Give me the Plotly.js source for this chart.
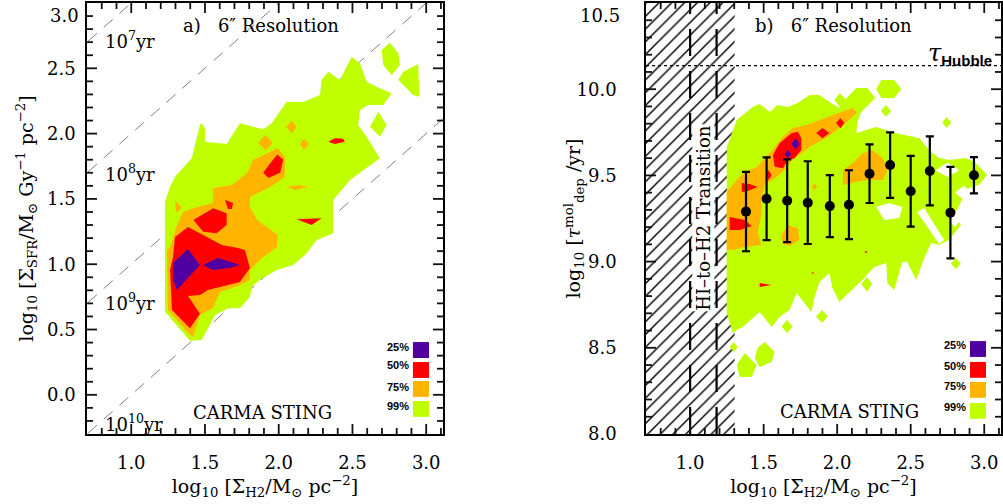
<!DOCTYPE html>
<html><head><meta charset="utf-8">
<script src="https://cdn.plot.ly/plotly-3.0.1.min.js"></script>
<style>html,body{margin:0;padding:0;background:#fff}</style>
</head><body><div id="chart" style="width:1003px;height:504px"></div>
<script>
const C25 = '#5000a0', C50 = '#ff0000', C75 = '#ffb400', C99 = '#bfff00';
const LEVEL_LABELS = ['25%', '50%', '75%', '99%'];
const LEVEL_COLORS = [C25, C50, C75, C99];
const TDEP_LOG = [7, 8, 9, 10];
const TDEP_LABELS = ['10<sup>7</sup>yr', '10<sup>8</sup>yr', '10<sup>9</sup>yr', '10<sup>10</sup>yr'];
const TDEP_LABEL_Y = [2.717, 1.698, 0.711, -0.216];
const A_99 = [
 [[1.398,0.414],[1.229,0.636],[1.229,1.109],[1.229,1.479],[1.263,1.593],[1.297,1.670],[1.410,1.811],[1.466,2.066],[1.478,2.079],[1.500,2.041],[1.500,1.938],[1.647,1.920],[1.737,2.079],[1.895,2.033],[1.952,2.079],[2.054,2.244],[2.166,2.242],[2.280,2.296],[2.291,2.410],[2.336,2.474],[2.415,2.410],[2.461,2.512],[2.495,2.589],[2.551,2.538],[2.596,2.397],[2.686,2.347],[2.766,2.309],[2.709,2.219],[2.607,2.219],[2.551,2.181],[2.539,2.066],[2.596,1.976],[2.686,1.811],[2.607,1.747],[2.483,1.645],[2.370,1.492],[2.370,1.237],[2.257,1.185],[2.190,1.083],[2.099,0.994],[1.986,0.956],[1.873,0.879],[1.817,0.828],[1.805,0.751],[1.737,0.662],[1.658,0.662],[1.568,0.611],[1.478,0.420]],
 [[2.698,2.640],[2.754,2.696],[2.811,2.615],[2.822,2.525],[2.766,2.449],[2.709,2.525]],
 [[2.844,2.474],[2.946,2.533],[2.953,2.283],[2.912,2.296],[2.811,2.410]],
 [[2.675,2.168],[2.732,2.066],[2.686,1.976],[2.619,2.053]]
];
const A_75 = [
 [[1.249,0.649],[1.242,1.109],[1.263,1.132],[1.303,1.277],[1.351,1.400],[1.446,1.438],[1.554,1.469],[1.554,1.583],[1.683,1.606],[1.785,1.698],[1.825,1.798],[1.920,1.851],[1.995,1.890],[2.042,1.821],[2.042,1.668],[1.941,1.591],[1.805,1.515],[1.805,1.438],[1.853,1.338],[1.995,1.224],[1.988,1.132],[1.886,1.047],[1.805,0.956],[1.805,0.879],[1.724,0.833],[1.602,0.787],[1.554,0.665],[1.466,0.611],[1.419,0.443],[1.385,0.473]],
 [[2.09,2.10],[2.12,2.05],[2.09,2.00],[2.05,2.05]],
 [[1.91,1.99],[1.96,1.93],[1.91,1.87],[1.86,1.93]],
 [[2.17,1.96],[2.205,1.92],[2.17,1.875],[2.145,1.92]],
 [[2.054,1.593],[2.144,1.606],[2.200,1.589],[2.110,1.568]],
 [[1.297,1.492],[1.344,1.430],[1.303,1.392]]
];
const A_50 = [
 [[1.99,1.84],[2.03,1.80],[2.01,1.70],[1.93,1.66],[1.895,1.70],[1.94,1.77]],
 [[2.336,1.938],[2.381,1.964],[2.436,1.961],[2.449,1.938],[2.381,1.920]],
 [[2.122,1.344],[2.291,1.351],[2.223,1.300]],
 [[1.636,1.492],[1.690,1.469],[1.683,1.423],[1.656,1.423]],
 [[1.421,1.338],[1.556,1.428],[1.647,1.390],[1.647,1.300],[1.579,1.237],[1.488,1.249]],
 [[1.283,1.055],[1.297,1.208],[1.385,1.285],[1.486,1.224],[1.615,1.147],[1.724,1.124],[1.771,1.109],[1.805,0.971],[1.737,0.864],[1.602,0.825],[1.520,0.802],[1.466,0.764],[1.385,0.756],[1.466,0.620],[1.398,0.510],[1.276,0.649],[1.263,0.956]]
];
const A_25 = [
 [[1.283,1.009],[1.385,1.116],[1.466,0.994],[1.310,0.802],[1.283,0.879]],
 [[1.486,0.994],[1.588,1.047],[1.737,0.994],[1.669,0.971],[1.554,0.956]]
];
const B_99 = [
 [[1.249,9.665],[1.317,9.821],[1.425,9.897],[1.473,9.914],[1.541,9.868],[1.595,9.908],[1.663,9.897],[1.731,9.920],[1.812,9.966],[1.880,9.966],[1.947,9.926],[2.015,9.891],[2.069,9.955],[2.131,10.007],[2.205,10.007],[2.259,9.949],[2.164,9.868],[2.137,9.810],[2.131,9.746],[2.266,9.781],[2.422,9.740],[2.558,9.717],[2.625,9.647],[2.693,9.601],[2.761,9.589],[2.876,9.601],[2.944,9.572],[3.019,9.502],[2.964,9.444],[2.863,9.415],[2.849,9.357],[2.795,9.270],[2.842,9.212],[2.761,9.125],[2.693,9.096],[2.639,9.108],[2.592,9.021],[2.537,8.893],[2.476,8.998],[2.442,8.998],[2.388,8.835],[2.341,8.876],[2.334,8.992],[2.253,8.969],[2.171,8.893],[2.015,8.766],[1.968,8.847],[1.947,8.934],[1.880,8.882],[1.846,8.795],[1.825,8.708],[1.724,8.818],[1.676,8.719],[1.608,8.679],[1.554,8.621],[1.473,8.708],[1.358,8.621],[1.317,8.603],[1.290,8.586],[1.249,8.702]],
 [[2.300,10.053],[2.388,10.053],[2.436,10.001],[2.388,9.949],[2.300,9.949],[2.266,10.001]],
 [[2.332,9.908],[2.366,9.874],[2.332,9.840],[2.298,9.874]],
 [[2.020,9.978],[2.061,9.937],[2.020,9.897],[1.981,9.937]],
 [[2.744,9.839],[2.775,9.807],[2.744,9.775],[2.714,9.807]],
 [[2.807,9.021],[2.840,8.989],[2.807,8.957],[2.773,8.989]],
 [[2.202,8.911],[2.239,8.870],[2.202,8.825],[2.164,8.870]],
 [[1.897,8.719],[1.936,8.682],[1.897,8.644],[1.857,8.682]],
 [[1.659,8.661],[1.697,8.624],[1.659,8.586],[1.622,8.624]],
 [[1.507,8.534],[1.575,8.476],[1.554,8.418],[1.473,8.389],[1.439,8.441],[1.459,8.499]],
 [[1.371,8.470],[1.453,8.400],[1.419,8.331],[1.337,8.331],[1.317,8.400]],
 [[1.297,8.534],[1.324,8.505],[1.297,8.476],[1.269,8.505]]
];
const B_HOLES = [
 [[2.266,9.317],[2.354,9.340],[2.442,9.317],[2.422,9.253],[2.320,9.241]],
 [[2.544,9.288],[2.592,9.311],[2.727,9.125],[2.693,9.102]],
 [[2.67,9.53],[2.75,9.575],[2.83,9.53],[2.75,9.49]],
 [[2.80,9.40],[2.86,9.44],[2.92,9.40],[2.86,9.36]],
 [[2.76,9.24],[2.80,9.28],[2.84,9.24],[2.80,9.20]]
];
const B_75 = [
 [[1.249,9.404],[1.317,9.473],[1.371,9.520],[1.453,9.549],[1.561,9.647],[1.629,9.723],[1.697,9.775],[1.792,9.792],[1.880,9.821],[2.015,9.862],[2.103,9.891],[2.137,9.868],[2.083,9.821],[2.015,9.775],[1.927,9.717],[1.832,9.676],[1.764,9.630],[1.697,9.589],[1.642,9.531],[1.588,9.491],[1.507,9.444],[1.486,9.357],[1.486,9.270],[1.459,9.172],[1.486,9.096],[1.371,9.085],[1.290,9.067],[1.249,9.067]],
 [[2.038,9.531],[2.105,9.570],[2.173,9.628],[2.241,9.647],[2.309,9.599],[2.343,9.531],[2.309,9.473],[2.219,9.473],[2.128,9.463],[2.038,9.444]],
 [[1.622,9.154],[1.663,9.212],[1.731,9.195],[1.744,9.125],[1.676,9.090],[1.629,9.102]],
 [[1.846,9.456],[1.866,9.433],[1.846,9.415],[1.825,9.433]]
];
const B_50 = [
 [[1.563,9.618],[1.608,9.686],[1.688,9.744],[1.733,9.753],[1.756,9.715],[1.756,9.647],[1.710,9.599],[1.665,9.589],[1.631,9.541],[1.575,9.550]],
 [[1.900,9.775],[1.947,9.746],[1.900,9.715],[1.857,9.746]],
 [[2.022,9.833],[2.049,9.804],[2.022,9.773],[1.993,9.804]],
 [[1.351,9.456],[1.405,9.450],[1.459,9.433],[1.392,9.410],[1.351,9.404]],
 [[1.269,9.259],[1.371,9.241],[1.419,9.207],[1.337,9.183],[1.269,9.183]],
 [[1.534,9.531],[1.554,9.502],[1.534,9.473],[1.520,9.502]],
 [[1.473,8.876],[1.554,8.864],[1.473,8.853]],
 [[2.196,9.062],[2.206,9.056],[2.196,9.050],[2.186,9.056]],
 [[1.834,8.938],[1.844,8.934],[1.834,8.930],[1.824,8.934]]
];
const B_25 = [
 [[1.717,9.717],[1.744,9.682],[1.717,9.647],[1.690,9.682]],
 [[1.663,9.647],[1.688,9.624],[1.663,9.599],[1.642,9.624]]
];
const BIN_X   = [1.38, 1.52, 1.66, 1.80, 1.95, 2.08, 2.22, 2.36, 2.50, 2.63, 2.77, 2.93];
const BIN_Y   = [9.29, 9.365, 9.353, 9.342, 9.322, 9.33, 9.51, 9.56, 9.408, 9.526, 9.284, 9.501];
const BIN_ERR = [0.23, 0.24, 0.24, 0.24, 0.18, 0.20, 0.17, 0.19, 0.205, 0.20, 0.265, 0.105];
const TRANSITION_EDGE = 1.303;
const TRANSITION_LINES = [1.0, 1.18];
const LOG_TAU_HUBBLE = 10.137;
const X_RANGE = [0.7, 3.114];
const YA_RANGE = [-0.3, 3.0];
const YB_RANGE = [8.0, 10.5];
const X_TICKS = [1.0, 1.5, 2.0, 2.5, 3.0];
const YA_TICKS = [0.0, 0.5, 1.0, 1.5, 2.0, 2.5];
const YB_TICKS = [8.0, 8.5, 9.0, 9.5, 10.0];

const SERIF = 'DejaVu Serif';
const W = 1003, H = 504, M = {l:87, r:2, t:3, b:70};
const XA_DOM = [0, 0.3895], XB_DOM = [0.6116, 1];
function polyXY(polys){
  const x=[], y=[];
  polys.forEach((p,i)=>{ if(i){x.push(null);y.push(null);} p.forEach(q=>{x.push(q[0]);y.push(q[1]);}); });
  return {x,y};
}
function fillTrace(polys,color,xa,ya){
  const d=polyXY(polys);
  return {type:'scatter',mode:'lines',x:d.x,y:d.y,fill:'toself',fillcolor:color,
    line:{width:0,color:color},xaxis:xa,yaxis:ya,hoverinfo:'skip',showlegend:false};
}
// IDL-style inward ticks on all four sides (major 0.5, minor 0.1), as line segments in axis units
function tickTrace(xa, ya, xRange, yRange, xDom){
  const pw=(W-M.l-M.r)*(xDom[1]-xDom[0]), ph=H-M.t-M.b;
  const dxpp=(xRange[1]-xRange[0])/pw, dypp=(yRange[1]-yRange[0])/ph;
  const x=[], y=[];
  for(let k=Math.ceil(xRange[0]*10+1e-6);k<=Math.floor(xRange[1]*10-1e-6);k++){
    const v=k/10, L=(k%5===0)?10:6;
    x.push(v,v,null,v,v,null); y.push(yRange[0],yRange[0]+L*dypp,null,yRange[1],yRange[1]-L*dypp,null);
  }
  for(let k=Math.ceil(yRange[0]*10+1e-6);k<=Math.floor(yRange[1]*10-1e-6);k++){
    const v=k/10, L=(k%5===0)?10:6;
    y.push(v,v,null,v,v,null); x.push(xRange[0],xRange[0]+L*dxpp,null,xRange[1],xRange[1]-L*dxpp,null);
  }
  return {type:'scatter',mode:'lines',x,y,line:{color:'#111',width:1.8},connectgaps:false,
    xaxis:xa,yaxis:ya,hoverinfo:'skip',showlegend:false};
}
const traces=[];
TDEP_LOG.forEach(t=>{
  traces.push({type:'scatter',mode:'lines',x:[X_RANGE[0]-0.1,X_RANGE[1]+0.1],
    y:[X_RANGE[0]-0.1+9-t,X_RANGE[1]+0.1+9-t],
    line:{color:'#808080',width:1,dash:'12px,9px'},xaxis:'x',yaxis:'y',hoverinfo:'skip',showlegend:false});
});
traces.push(fillTrace(A_99,C99,'x','y'));
traces.push(fillTrace(A_75,C75,'x','y'));
traces.push(fillTrace(A_50,C50,'x','y'));
traces.push(fillTrace(A_25,C25,'x','y'));
traces.push(tickTrace('x','y',X_RANGE,YA_RANGE,XA_DOM));
traces.push({type:'scatter',mode:'lines',
  x:[X_RANGE[0],TRANSITION_EDGE,TRANSITION_EDGE,X_RANGE[0],X_RANGE[0]],
  y:[YB_RANGE[0],YB_RANGE[0],YB_RANGE[1],YB_RANGE[1],YB_RANGE[0]],
  fill:'toself',fillcolor:'white',line:{width:0},
  fillpattern:{shape:'/',size:9,solidity:0.16,fgcolor:'black',bgcolor:'white'},
  xaxis:'x2',yaxis:'y2',hoverinfo:'skip',showlegend:false});
TRANSITION_LINES.forEach(v=>{
  traces.push({type:'scatter',mode:'lines',x:[v,v],y:[YB_RANGE[0],YB_RANGE[1]],
    line:{color:'black',width:2.2,dash:'27px,15px'},xaxis:'x2',yaxis:'y2',hoverinfo:'skip',showlegend:false});
});
traces.push({type:'scatter',mode:'lines',x:[X_RANGE[0],X_RANGE[1]],y:[LOG_TAU_HUBBLE,LOG_TAU_HUBBLE],
  line:{color:'black',width:1.4,dash:'3px,3px'},xaxis:'x2',yaxis:'y2',hoverinfo:'skip',showlegend:false});
traces.push(fillTrace(B_99,C99,'x2','y2'));
traces.push(fillTrace(B_HOLES,'white','x2','y2'));
traces.push(fillTrace(B_75,C75,'x2','y2'));
traces.push(fillTrace(B_50,C50,'x2','y2'));
traces.push(fillTrace(B_25,C25,'x2','y2'));
traces.push({type:'scatter',mode:'markers',x:BIN_X,y:BIN_Y,
  marker:{color:'black',size:10},
  error_y:{type:'data',array:BIN_ERR,visible:true,color:'black',thickness:2.2,width:4},
  xaxis:'x2',yaxis:'y2',hoverinfo:'skip',showlegend:false});
traces.push(tickTrace('x2','y2',X_RANGE,YB_RANGE,XB_DOM));

const tickfont={family:SERIF,size:18,color:'black'};
function fmt(v){return v.toFixed(1);}
function axisBase(){
  return {showgrid:false,zeroline:false,showline:true,linecolor:'black',linewidth:1.5,mirror:true,
    ticks:'',tickmode:'array',tickfont:tickfont};
}
const xTitle='log<sub>10</sub> [Σ<sub>H2</sub>/M<sub>⊙</sub> pc<sup>−2</sup>]';
const layout={
  width:W,height:H,margin:M,
  paper_bgcolor:'white',plot_bgcolor:'white',showlegend:false,
  xaxis:Object.assign(axisBase(),{domain:XA_DOM,range:X_RANGE,anchor:'y',
    tickvals:X_TICKS,ticktext:X_TICKS.map(fmt),ticklabelstandoff:12,
    title:{text:xTitle,font:{family:SERIF,size:19,color:'black'},standoff:6}}),
  yaxis:Object.assign(axisBase(),{domain:[0,1],range:YA_RANGE,anchor:'x',
    tickvals:YA_TICKS,ticktext:YA_TICKS.map(fmt),ticklabelstandoff:6,
    title:{text:'log<sub>10</sub> [Σ<sub>SFR</sub>/M<sub>⊙</sub> Gy<sup>−1</sup> pc<sup>−2</sup>]',
      font:{family:SERIF,size:19,color:'black'},standoff:8}}),
  xaxis2:Object.assign(axisBase(),{domain:XB_DOM,range:X_RANGE,anchor:'y2',
    tickvals:X_TICKS,ticktext:X_TICKS.map(fmt),ticklabelstandoff:12,
    title:{text:xTitle,font:{family:SERIF,size:19,color:'black'},standoff:6}}),
  yaxis2:Object.assign(axisBase(),{domain:[0,1],range:YB_RANGE,anchor:'x2',
    tickvals:YB_TICKS,ticktext:YB_TICKS.map(fmt),ticklabelstandoff:24}),
  shapes:[],annotations:[]
};
const ann=layout.annotations, shp=layout.shapes;
function txt(o){ann.push(Object.assign({showarrow:false,font:{family:SERIF,size:18,color:'black'}},o));}
txt({xref:'x',yref:'y',x:1.88,y:2.83,text:'a)\u00a0\u00a0 6″ Resolution'});
TDEP_LABELS.forEach((t,i)=>txt({xref:'x',yref:'y',x:0.808,y:TDEP_LABEL_Y[i],xanchor:'left',text:t}));
txt({xref:'x',yref:'y',x:1.89,y:-0.139,text:'CARMA STING'});
txt({xref:'x domain',yref:'y domain',x:0,y:1,xanchor:'right',yanchor:'top',xshift:-6,text:'3.0'});
txt({xref:'x2',yref:'y2',x:1.975,y:10.372,text:'b)\u00a0\u00a0 6″ Resolution'});
txt({xref:'x2',yref:'y2',x:3.066,y:10.205,xanchor:'right',font:{family:SERIF,size:24,color:'black'},
  text:'<i>τ</i><sub><span style="font-family:Liberation Sans;font-size:15px"><b>Hubble</b></span></sub>'});
txt({xref:'x2',yref:'y2',x:2.083,y:8.128,text:'CARMA STING'});
txt({xref:'x2',yref:'y2',x:1.093,y:9.253,textangle:-90,bgcolor:'white',borderpad:0,text:'HI–to–H2 Transition'});
txt({xref:'x2 domain',yref:'y2 domain',x:0,y:1,xanchor:'right',yanchor:'top',xshift:-24,text:'10.5'});
txt({xref:'x2 domain',yref:'y2 domain',x:0,y:0.5,xanchor:'center',yanchor:'middle',xshift:-72,textangle:-90,
  font:{family:SERIF,size:19,color:'black'},
  text:'log<sub>10</sub> [<i>τ</i><sup>mol</sup><sub>dep</sub> /yr]'});
const LEG_A={x0:2.910,x1:3.019,y0:[0.404,0.251,0.106,-0.047],h:0.122,lx:2.897,ly:[0.366,0.228,0.062,-0.086]};
const LEG_B={x0:2.903,x1:3.012,y0:[8.539,8.418,8.302,8.180],h:0.092,lx:2.890,ly:[8.516,8.394,8.278,8.155]};
[[LEG_A,'x','y'],[LEG_B,'x2','y2']].forEach(([L,xr,yr])=>{
  LEVEL_LABELS.forEach((lab,i)=>{
    shp.push({type:'rect',xref:xr,yref:yr,x0:L.x0,x1:L.x1,y0:L.y0[i]-L.h,y1:L.y0[i],
      fillcolor:LEVEL_COLORS[i],line:{width:0},layer:'above'});
    ann.push({xref:xr,yref:yr,x:L.lx,y:L.ly[i],xanchor:'right',showarrow:false,text:'<b>'+lab+'</b>',
      font:{family:'Liberation Sans',size:11,color:'black'}});
  });
});
Plotly.newPlot('chart',traces,layout,{displayModeBar:false});
</script></body></html>
